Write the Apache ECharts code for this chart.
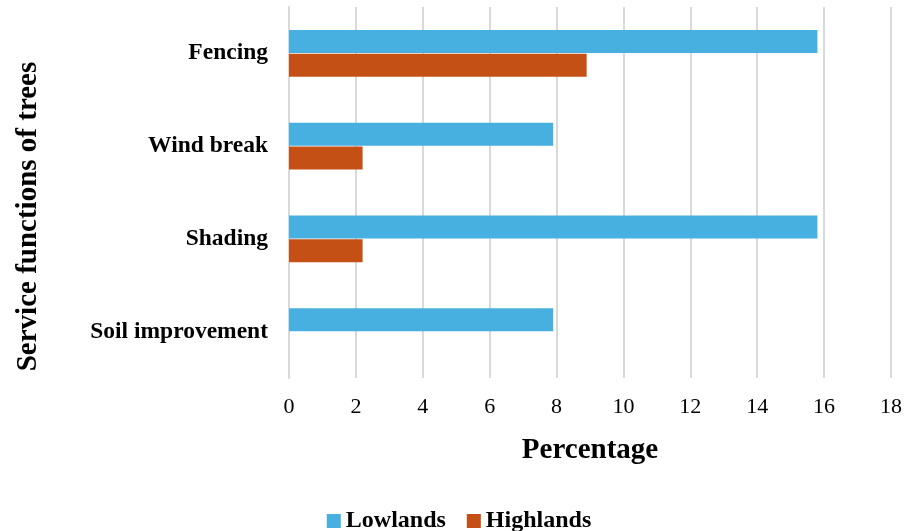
<!DOCTYPE html>
<html>
<head>
<meta charset="utf-8">
<script src="https://cdn.jsdelivr.net/npm/echarts@6/dist/echarts.min.js"></script>
<style>
  html, body { margin: 0; padding: 0; background: #fff; }
  #chart { width: 918px; height: 531px; }
</style>
</head>
<body>
<div id="chart"></div>
<script>
// Service functions of trees, by zone (percentage of respondents)
const categories = ['Fencing', 'Wind break', 'Shading', 'Soil improvement'];
const lowlands = [15.8, 7.9, 15.8, 7.9];
const highlands = [8.9, 2.2, 2.2, 0];
const xTicks = [0, 2, 4, 6, 8, 10, 12, 14, 16, 18];

const FONT = '"Liberation Serif", "Times New Roman", serif';

const chart = echarts.init(document.getElementById('chart'));
chart.setOption({
  animation: false,
  textStyle: { fontFamily: FONT, color: '#000' },
  grid: { left: 289, right: 27, top: 7, bottom: 153, containLabel: false, outerBoundsMode: 'none' },
  legend: {
    bottom: -7,
    left: 'center',
    itemWidth: 14,
    itemHeight: 14,
    itemGap: 21,
    itemTextGap: 4,
    icon: 'rect',
    textStyle: { fontFamily: FONT, fontSize: 24, fontWeight: 'bold', color: '#000' },
    data: ['Lowlands', 'Highlands']
  },
  xAxis: {
    type: 'value',
    min: xTicks[0],
    max: xTicks[xTicks.length - 1],
    interval: 2,
    name: 'Percentage',
    nameLocation: 'middle',
    nameGap: 58,
    nameTextStyle: { fontFamily: FONT, fontSize: 29, fontWeight: 'bold', color: '#000' },
    axisLine: { show: false },
    axisTick: { show: false },
    axisLabel: { fontFamily: FONT, fontSize: 22, color: '#000', margin: 18 },
    splitLine: { show: true, lineStyle: { color: '#d9d9d9', width: 2 } }
  },
  yAxis: {
    type: 'category',
    data: categories,
    inverse: true,
    name: 'Service functions of trees',
    nameLocation: 'middle',
    nameGap: 246,
    nameRotate: 90,
    nameTextStyle: { fontFamily: FONT, fontSize: 29, fontWeight: 'bold', color: '#000', padding: [0, 48, 0, 0] },
    axisLine: { show: true, lineStyle: { color: '#d9d9d9', width: 2 } },
    axisTick: { show: false },
    axisLabel: { fontFamily: FONT, fontSize: 23.5, fontWeight: 'bold', color: '#000', margin: 21 }
  },
  series: [
    {
      name: 'Lowlands',
      type: 'bar',
      data: lowlands,
      barWidth: 23,
      barGap: '4%',
      itemStyle: { color: '#47b0e0' }
    },
    {
      name: 'Highlands',
      type: 'bar',
      data: highlands,
      barWidth: 23,
      barGap: '4%',
      itemStyle: { color: '#c45016' }
    }
  ]
});
</script>
</body>
</html>
